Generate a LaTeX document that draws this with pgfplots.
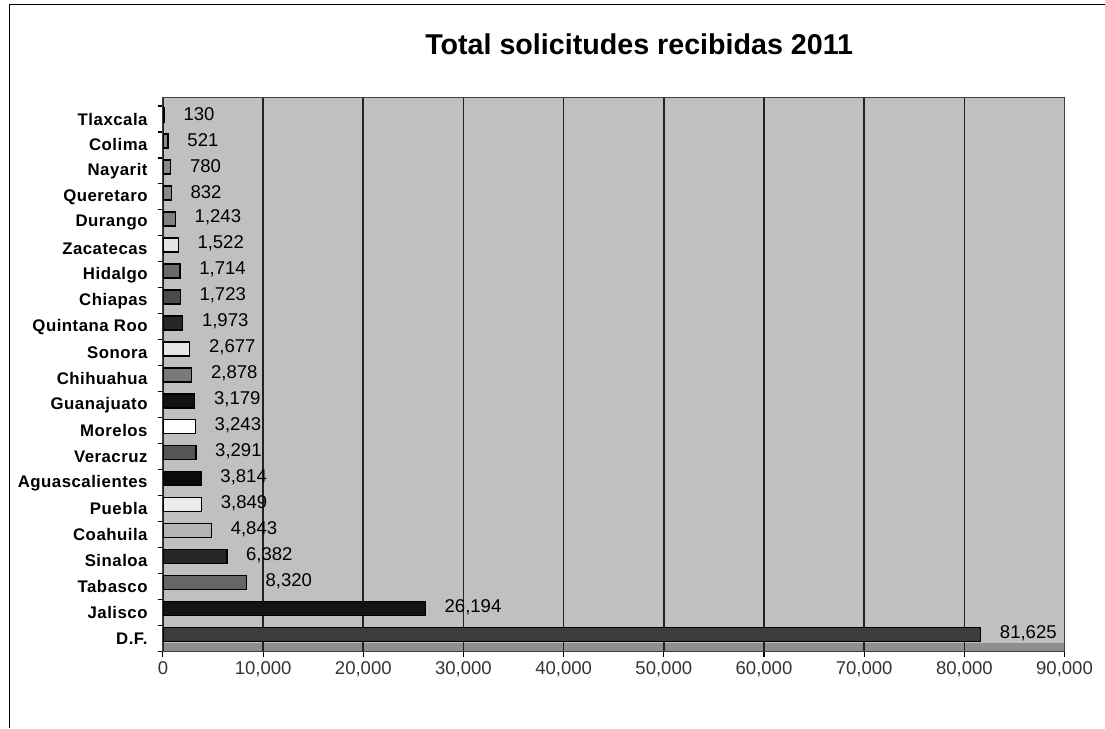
\documentclass[border=0pt]{standalone}
\usepackage{fontspec}
\setmainfont{Liberation Sans}
\newfontfamily\catfont[LetterSpace=3]{Liberation Sans}
\usepackage{pgfplots}
\pgfplotsset{compat=1.18}
\definecolor{wallc}{HTML}{C0C0C0}
\definecolor{floorc}{HTML}{8E8E8E}
\definecolor{gridc}{HTML}{222222}
\definecolor{c0}{HTML}{3C3C3C}
\definecolor{c1}{HTML}{141414}
\definecolor{c2}{HTML}{666666}
\definecolor{c3}{HTML}{262626}
\definecolor{c4}{HTML}{B4B4B4}
\definecolor{c5}{HTML}{ECECEC}
\definecolor{c6}{HTML}{0A0A0A}
\definecolor{c7}{HTML}{555555}
\definecolor{c8}{HTML}{FFFFFF}
\definecolor{c9}{HTML}{111111}
\definecolor{c10}{HTML}{7A7A7A}
\definecolor{c11}{HTML}{E6E6E6}
\definecolor{c12}{HTML}{262626}
\definecolor{c13}{HTML}{4A4A4A}
\definecolor{c14}{HTML}{6A6A6A}
\definecolor{c15}{HTML}{E4E4E4}
\definecolor{c16}{HTML}{808080}
\definecolor{c17}{HTML}{8A8A8A}
\definecolor{c18}{HTML}{8A8A8A}
\definecolor{c19}{HTML}{8A8A8A}
\definecolor{c20}{HTML}{333333}
\begin{document}
\begin{tikzpicture}
\path (0,0) rectangle (828.75pt,-546pt);
\begin{axis}[
    set layers,
    at={(122.25pt,-489pt)}, anchor=south west,
    width=676.5pt, height=415.5pt, scale only axis,
    xbar, bar width=10.5pt, bar shift=3pt,
    xmin=0, xmax=90000, ymin=-0.5, ymax=20.81,
    xtick={0,10000,...,90000},
    scaled x ticks=false,
    xmajorgrids,
    major x grid style={gridc, line width=1.2pt},
    axis line style={black!75, line width=0.8pt},
    xtick pos=bottom, ytick pos=left,
    tick align=outside,
    major x tick style={black, line width=0.8pt},
    major tick length=4pt,
    ytick={0,...,20},
    major y tick style={draw=none},
    minor ytick={-0.5,0.5,...,20.5},
    minor y tick style={black, line width=0.8pt},
    minor tick length=4pt,
    yticklabels={D.F., Jalisco, Tabasco, Sinaloa, Coahuila, Puebla, Aguascalientes,
        Veracruz, Morelos, Guanajuato, Chihuahua, Sonora, Quintana Roo, Chiapas,
        Hidalgo, Zacatecas, Durango, Queretaro, Nayarit, Colima, Tlaxcala},
    yticklabel style={font=\catfont\bfseries\fontsize{12.6}{14}\selectfont, xshift=-4pt},
    xticklabel style={font=\fontsize{13.9}{16}\selectfont, text=black!80},
    /pgf/number format/.cd, fixed, precision=0, 1000 sep={,}, assume math mode=true,
    /pgfplots/.cd,
    point meta=x,
    nodes near coords,
    every node near coord/.append style={anchor=west, xshift=14pt, yshift=1pt, inner sep=0pt,
        font=\fontsize{13.9}{16}\selectfont, text=black},
    b/.style={fill=#1, draw=black, line width=1pt},
]
\pgfplotsextra{%
  \begin{pgfonlayer}{axis background}
    \fill[wallc] (rel axis cs:0,0) rectangle (rel axis cs:1,1);
    \fill[floorc] (axis cs:0,-0.5) rectangle (axis cs:90000,-0.155);
  \end{pgfonlayer}}
\addplot[b=c0] coordinates {(81625,0)};
\addplot[b=c1] coordinates {(26194,1)};
\addplot[b=c2] coordinates {(8320,2)};
\addplot[b=c3] coordinates {(6382,3)};
\addplot[b=c4] coordinates {(4843,4)};
\addplot[b=c5] coordinates {(3849,5)};
\addplot[b=c6] coordinates {(3814,6)};
\addplot[b=c7] coordinates {(3291,7)};
\addplot[b=c8] coordinates {(3243,8)};
\addplot[b=c9] coordinates {(3179,9)};
\addplot[b=c10] coordinates {(2878,10)};
\addplot[b=c11] coordinates {(2677,11)};
\addplot[b=c12] coordinates {(1973,12)};
\addplot[b=c13] coordinates {(1723,13)};
\addplot[b=c14] coordinates {(1714,14)};
\addplot[b=c15] coordinates {(1522,15)};
\addplot[b=c16] coordinates {(1243,16)};
\addplot[b=c17] coordinates {(832,17)};
\addplot[b=c18] coordinates {(780,18)};
\addplot[b=c19] coordinates {(521,19)};
\addplot[b=c20] coordinates {(130,20)};
\end{axis}
\node[anchor=base, font=\bfseries\fontsize{21.5}{26}\selectfont] at (479.6pt,-41.25pt)
    {Total solicitudes recibidas 2011};
\draw[black, line width=0.75pt] (7.5pt,-546pt) -- (7.5pt,-3.75pt) -- (828.75pt,-3.75pt);
\useasboundingbox (0,0) rectangle (828.75pt,-546pt);
\end{tikzpicture}
\end{document}
